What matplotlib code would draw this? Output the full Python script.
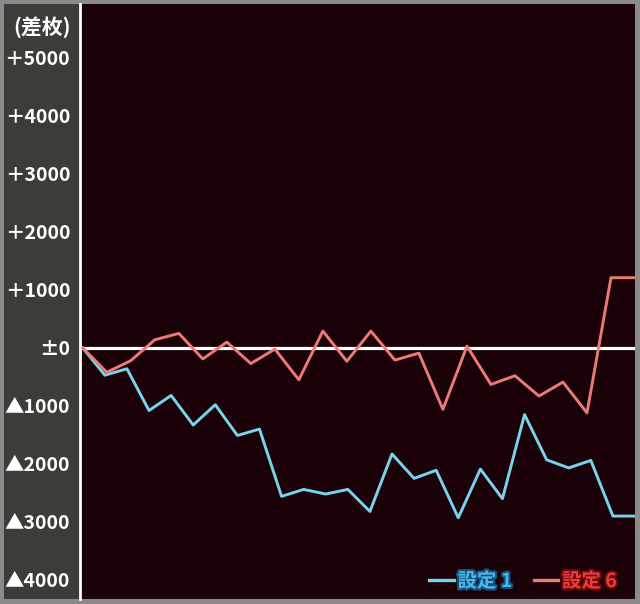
import numpy as np
import matplotlib.pyplot as plt
import matplotlib.patheffects as pe
from matplotlib.patches import Rectangle

plt.rcParams['font.family'] = ['Noto Sans CJK JP', 'DejaVu Sans']

# 差枚 per point
setting1 = [0, -470, -360, -1080, -820, -1330, -980, -1510, -1400, -2560,
            -2440, -2520, -2440, -2820, -1830, -2250, -2110, -2930, -2090,
            -2600, -1150, -1930, -2070, -1940, -2900, -2900]
setting6 = [0, -420, -220, 140, 250, -190, 100, -270, -20, -550, 290, -230,
            290, -210, -90, -1060, 30, -630, -480, -830, -590, -1120, 1210, 1210]
series_names = ['設定 1', '設定 6']
ytick_values = [5000, 4000, 3000, 2000, 1000, 0, -1000, -2000, -3000, -4000]
ytick_labels = ['＋5000', '＋4000', '＋3000', '＋2000', '＋1000', '±0',
                '▲1000', '▲2000', '▲3000', '▲4000']

W, H = 640, 604
fig = plt.figure(figsize=(W / 100, H / 100), dpi=100, facecolor='#8a8a8a')

# dark grey label panel on the left
fig.add_artist(Rectangle((4 / W, 5 / H), 76 / W, 595 / H, transform=fig.transFigure,
                         facecolor='#3e3c38', edgecolor='none', zorder=0))

ax = fig.add_axes([80 / W, 5 / H, 555 / W, 595 / H], facecolor='#1a0208')

blue = '#7ad3ec'
red = '#ec7a75'
l1, = ax.plot(np.linspace(0, 1, len(setting1)), setting1, color=blue, lw=2.1, zorder=3)
l6, = ax.plot(np.linspace(0, 1, len(setting6)), setting6, color=red, lw=2.1, zorder=3)
ax.axhline(0, color='white', lw=2.3, zorder=2)

ax.set_xlim(-0.005, 1)
ax.set_ylim(-4330, 5930)
ax.set_xticks([])
ax.set_yticks(ytick_values, ytick_labels)
ax.tick_params(axis='y', length=0, pad=7, labelcolor='white', labelsize=14)
for t in ax.get_yticklabels():
    t.set_fontweight('bold')

for s in ['top', 'right', 'bottom']:
    ax.spines[s].set_visible(False)
ax.spines['left'].set_color('white')
ax.spines['left'].set_linewidth(2)

fig.text(42 / W, 1 - 27 / H, '(差枚)', ha='center', va='center',
         color='white', fontsize=15, fontweight='bold')

leg = ax.legend([l1, l6], series_names, loc='lower right', ncol=2, frameon=False,
                bbox_to_anchor=((617 - 80) / 555, 8 / 595), borderpad=0, borderaxespad=0,
                handlelength=1.25, handletextpad=0.2, columnspacing=1.1,
                prop={'weight': 'bold', 'size': 14})
text_styles = [('#4ab8ec', '#15507a'), ('#f03c3c', '#6a0a0a')]
for t, h, (fc, ec) in zip(leg.get_texts(), leg.legend_handles, text_styles):
    t.set_color(fc)
    t.set_path_effects([pe.withStroke(linewidth=3, foreground=ec)])
    h.set_linewidth(2.4)

fig.savefig('out.png', dpi=100, facecolor=fig.get_facecolor())
